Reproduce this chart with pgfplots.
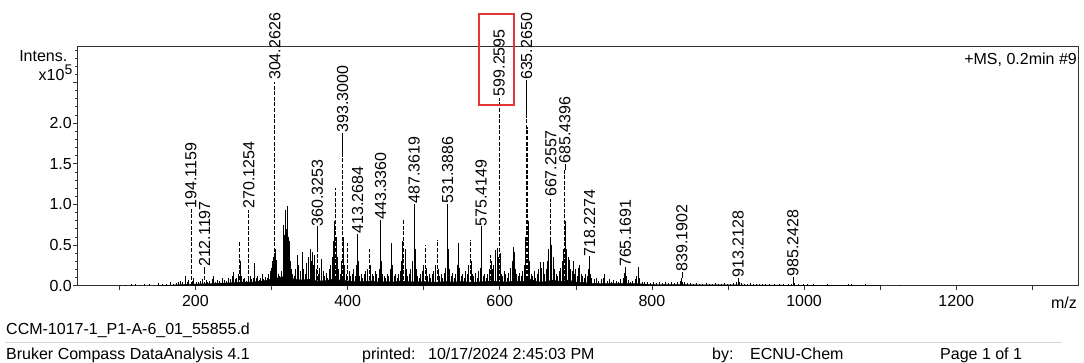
\documentclass[border=0pt]{standalone}
\usepackage{pgfplots}
\pgfplotsset{compat=1.18}
\usepackage{pgfplotstable}
\usepackage{fontspec}
\setmainfont{Liberation Sans}
\definecolor{boxred}{RGB}{225,55,55}
\definecolor{axgray}{RGB}{50,50,50}
\definecolor{sepgray}{RGB}{215,215,215}

% background spectrum (m/z, intensity x1e5)
\pgfplotstableread[row sep=\\]{mz I\\
102 0.012\\ 108 0.008\\ 116 0.02\\ 121 0.025\\ 127 0.01\\ 133 0.015\\ 139 0.02\\ 146 0.012\\ 152 0.03\\ 157 0.018\\
162 0.025\\ 167 0.04\\ 171 0.02\\ 175 0.03\\ 178 0.05\\ 180 0.06\\ 183 0.04\\ 186.6 0.12\\ 189 0.05\\ 191 0.07\\
196 0.06\\ 198 0.09\\ 201 0.05\\ 204 0.04\\ 207 0.06\\ 209 0.08\\ 214 0.07\\ 216 0.05\\ 219 0.06\\ 222 0.08\\
223.5 0.12\\ 226 0.05\\ 229 0.07\\ 232 0.06\\ 235 0.09\\ 238 0.07\\ 241 0.06\\ 244 0.10\\ 246 0.08\\ 248 0.12\\
250 0.17\\ 252 0.08\\ 254 0.10\\ 256 0.15\\ 259.5 0.30\\ 261 0.12\\ 263 0.08\\ 265 0.10\\ 267 0.06\\ 269 0.09\\
272 0.12\\ 274 0.08\\ 276 0.10\\ 277.7 0.28\\ 280 0.09\\ 282 0.12\\ 284 0.07\\ 286 0.10\\ 288 0.14\\ 290 0.08\\
292 0.11\\ 294 0.09\\ 296 0.15\\ 298 0.18\\ 300 0.22\\ 301.5 0.30\\ 302.6 0.35\\ 303.4 0.40\\ 305.2 0.45\\ 306 0.32\\
307 0.22\\ 309 0.15\\ 311 0.12\\ 313 0.18\\ 315 0.35\\ 316 0.75\\ 317.2 0.62\\ 318.5 0.93\\ 320 0.70\\ 321 0.98\\
322 0.60\\ 323 0.55\\ 324.5 0.30\\ 326 0.20\\ 328 0.15\\ 330 0.12\\ 332 0.20\\ 334.6 0.38\\ 336 0.25\\ 338 0.18\\
340 0.42\\ 342 0.20\\ 344 0.15\\ 346 0.28\\ 348 0.35\\ 350.8 0.45\\ 352 0.30\\ 353.4 0.42\\ 355 0.25\\ 357 0.38\\
359 0.20\\ 361.5 0.15\\ 363 0.22\\ 366 0.33\\ 368 0.18\\ 370 0.12\\ 372 0.16\\ 374 0.10\\ 376 0.20\\ 378 0.25\\
380 0.35\\ 381.5 0.55\\ 382.5 0.80\\ 385 0.60\\ 386.5 0.35\\ 388 0.20\\ 390 0.15\\ 392 0.30\\ 394.5 0.60\\ 396 0.25\\
398 0.15\\ 402 0.18\\ 404 0.12\\ 406 0.15\\ 408 0.20\\ 410 0.12\\ 412 0.25\\ 414.5 0.30\\ 416 0.12\\ 418 0.15\\
420 0.10\\ 422 0.14\\ 424 0.18\\ 426 0.20\\ 430 0.25\\ 432 0.15\\ 434 0.12\\ 436 0.18\\ 438 0.14\\ 440 0.10\\
442 0.20\\ 444.5 0.30\\ 446 0.15\\ 448 0.12\\ 450 0.10\\ 452 0.14\\ 454 0.12\\ 456 0.20\\ 458 0.53\\ 459.5 0.25\\
461 0.12\\ 463 0.15\\ 465 0.10\\ 467 0.14\\ 469 0.18\\ 471 0.30\\ 472.5 0.55\\ 475.5 0.45\\ 477 0.20\\ 479 0.12\\
481 0.15\\ 483 0.20\\ 485 0.30\\ 488.5 0.45\\ 490 0.20\\ 492 0.12\\ 494 0.10\\ 496 0.14\\ 498 0.18\\ 500 0.25\\
503 0.22\\ 505 0.12\\ 507 0.15\\ 509 0.10\\ 511 0.14\\ 513 0.18\\ 515 0.25\\ 519 0.20\\ 521 0.12\\ 523 0.14\\
525 0.10\\ 527 0.16\\ 529 0.22\\ 532.5 0.45\\ 534 0.20\\ 536 0.12\\ 538 0.16\\ 540 0.10\\ 542 0.15\\ 544 0.25\\
545.5 0.52\\ 547 0.22\\ 549 0.12\\ 551 0.15\\ 553 0.10\\ 555 0.18\\ 557 0.14\\ 559 0.25\\ 562.5 0.30\\ 564 0.15\\
566 0.12\\ 568 0.16\\ 570 0.10\\ 572 0.18\\ 574 0.22\\ 576.5 0.30\\ 578 0.12\\ 580 0.15\\ 582 0.10\\ 584 0.14\\
586 0.20\\ 589 0.30\\ 590.5 0.20\\ 592 0.25\\ 594 0.44\\ 596.5 0.46\\ 598 0.35\\ 600.5 0.40\\ 602 0.15\\ 604 0.12\\
606 0.18\\ 608 0.14\\ 610 0.10\\ 612 0.16\\ 614 0.22\\ 616 0.30\\ 617.5 0.48\\ 619 0.42\\ 620.5 0.20\\ 622 0.15\\
624 0.12\\ 626 0.16\\ 628 0.12\\ 630 0.18\\ 632 0.25\\ 634 0.60\\ 638 0.80\\ 639.5 0.30\\ 641 0.15\\ 643 0.12\\
645 0.18\\ 647 0.10\\ 649 0.14\\ 651 0.20\\ 653 0.29\\ 655 0.22\\ 657 0.29\\ 659 0.15\\ 661 0.20\\ 663 0.30\\
664.5 0.45\\ 666 0.56\\ 668.5 0.50\\ 670 0.35\\ 672 0.20\\ 674 0.15\\ 676 0.12\\ 678 0.18\\ 680 0.22\\ 682 0.30\\
683.5 0.45\\ 686.5 0.80\\ 688 0.45\\ 690 0.35\\ 691.5 0.31\\ 693 0.20\\ 695 0.18\\ 696.6 0.30\\ 698 0.15\\ 700 0.20\\
702 0.12\\ 703.5 0.22\\ 705 0.26\\ 707 0.15\\ 709 0.12\\ 711 0.10\\ 713 0.14\\ 715 0.12\\ 716.5 0.20\\ 719.5 0.15\\
721 0.10\\ 724 0.08\\ 727 0.10\\ 730 0.06\\ 733 0.08\\ 736 0.10\\ 738 0.14\\ 741 0.06\\ 744 0.08\\ 747 0.05\\
750 0.07\\ 753 0.06\\ 756 0.05\\ 759 0.08\\ 762 0.10\\ 764 0.16\\ 766.5 0.12\\ 769 0.07\\ 772 0.05\\ 775 0.06\\
778 0.08\\ 780 0.12\\ 782 0.23\\ 784 0.10\\ 787 0.05\\ 790 0.04\\ 794 0.05\\ 798 0.03\\ 802 0.04\\ 806 0.03\\
810 0.04\\ 814 0.03\\ 818 0.04\\ 822 0.03\\ 826 0.04\\ 830 0.03\\ 834 0.05\\ 837 0.06\\ 840.5 0.05\\ 843 0.04\\
847 0.03\\ 851 0.03\\ 855 0.025\\ 859 0.03\\ 863 0.025\\ 867 0.02\\ 871 0.03\\ 875 0.025\\ 879 0.02\\ 883 0.03\\
887 0.025\\ 891 0.02\\ 895 0.03\\ 899 0.025\\ 903 0.02\\ 907 0.03\\ 911 0.05\\ 914.5 0.04\\ 917 0.03\\ 921 0.025\\
925 0.02\\ 929 0.03\\ 933 0.02\\ 937 0.015\\ 941 0.02\\ 945 0.015\\ 949 0.02\\ 955 0.015\\ 961 0.02\\ 967 0.015\\
973 0.02\\ 979 0.015\\ 983 0.02\\ 987 0.03\\ 993 0.015\\ 999 0.02\\ 1005 0.015\\ 1012 0.02\\ 1020 0.01\\ 1030 0.015\\
1045 0.01\\ 1058 0.015\\ 1062 0.02\\ 1070 0.01\\ 1080 0.015\\ 1100 0.01\\ 1125 0.012\\
}\noise

% noise floor envelope
\pgfplotstableread[row sep=\\]{mz I\\
150 0\\ 170 0.008\\ 185 0.015\\ 200 0.02\\ 215 0.025\\ 230 0.03\\ 245 0.035\\ 260 0.045\\ 275 0.045\\ 290 0.06\\
300 0.08\\ 310 0.10\\ 320 0.12\\ 330 0.08\\ 340 0.07\\ 350 0.08\\ 360 0.06\\ 370 0.06\\ 380 0.08\\ 390 0.07\\
400 0.06\\ 410 0.05\\ 420 0.05\\ 430 0.06\\ 440 0.045\\ 450 0.05\\ 460 0.045\\ 470 0.06\\ 480 0.05\\ 490 0.045\\
500 0.05\\ 510 0.045\\ 520 0.045\\ 530 0.05\\ 540 0.045\\ 550 0.05\\ 560 0.045\\ 570 0.045\\ 580 0.05\\ 590 0.06\\
600 0.05\\ 610 0.045\\ 620 0.06\\ 630 0.05\\ 640 0.08\\ 650 0.045\\ 660 0.05\\ 670 0.07\\ 680 0.05\\ 690 0.07\\
700 0.045\\ 710 0.04\\ 720 0.03\\ 740 0.025\\ 760 0.025\\ 780 0.025\\ 800 0.015\\ 850 0.012\\ 900 0.01\\ 950 0.007\\
1000 0.005\\ 1050 0.003\\ 1100 0\\
}\floor

% unlabelled strong peaks (drawn broken, as in the print)
\pgfplotstableread[row sep=\\]{mz I\\
257.9 0.54\\ 383.6 1.20\\ 400.0 0.52\\ 428.7 0.45\\ 474.0 0.82\\ 501.8 0.50\\ 517.5 0.56\\ 561.0 0.56\\ 587.5 0.38\\ 636.3 1.95\\
}\dashpk

% labelled peaks drawn broken
\pgfplotstableread[row sep=\\]{mz I\\
194.1159 0.94\\ 212.1197 0.19\\ 270.1254 0.93\\ 304.2626 2.51\\ 360.3253 0.45\\ 393.3000 1.58\\
599.2595 2.31\\ 635.2650 2.10\\ 667.2557 1.07\\ 685.4396 1.42\\
}\dashlab

% labelled peaks drawn solid
\pgfplotstableread[row sep=\\]{mz I\\
413.2684 0.56\\ 443.3360 0.77\\ 487.3619 0.98\\ 531.3886 0.99\\ 575.4149 0.70\\
718.2274 0.30\\ 765.1691 0.19\\ 839.1902 0.10\\ 913.2128 0.07\\ 985.2428 0.05\\
}\solidlab

\tikzset{lab/.style={rotate=90, anchor=west, inner sep=0pt, font=\fontsize{16}{19}\selectfont}}

\begin{document}
\begin{tikzpicture}
\path[use as bounding box] (0,0) rectangle (1084pt,363pt);
\begin{axis}[
  at={(77.5pt,77.3pt)}, anchor=south west,
  scale only axis, width=1000.5pt, height=239pt,
  xmin=45, xmax=1360, ymin=0, ymax=2.94,
  clip=false,
  axis line style={axgray, line width=0.8pt},
  tick style={axgray, line width=0.7pt},
  tick align=outside, tick pos=left,
  major tick length=4.5pt, minor tick length=2.5pt,
  xtick={100,200,...,1300},
  xticklabels={,200,,400,,600,,800,,1000,,1200,},
  ytick={0,0.5,1,1.5,2,2.5},
  yticklabels={0.0,0.5,1.0,1.5,2.0,},
  minor ytick={0.1,0.2,0.3,0.4,0.6,0.7,0.8,0.9,1.1,1.2,1.3,1.4,1.6,1.7,1.8,1.9,2.1,2.2,2.3,2.4,2.6,2.7,2.8,2.9},
  ticklabel style={font=\fontsize{16}{19}\selectfont},
  xticklabel style={yshift=-2pt},
  yticklabel style={inner sep=1pt},
]
\addplot[fill=black, draw=black, line width=0.4pt] table[x=mz, y=I] {\floor} \closedcycle;
\addplot[ycomb, black, line width=0.85pt, mark=none] table[x=mz, y=I] {\noise};
\addplot[ycomb, black, line width=0.9pt, mark=none, dash pattern=on 4pt off 1.6pt] table[x=mz, y=I] {\dashpk};
\addplot[ycomb, black, line width=0.9pt, mark=none, dash pattern=on 4pt off 1.6pt] table[x=mz, y=I] {\dashlab};
\addplot[ycomb, black, line width=0.75pt, mark=none] table[x=mz, y=I] {\solidlab};
% leader lines from peak top to label
\addplot[black, line width=0.5pt, unbounded coords=jump, mark=none] coordinates {
 (212.1197,0.19) (212.1197,0.23) (212.1197,nan)
 (360.3253,0.45) (360.3253,0.73) (360.3253,nan)
 (393.3000,1.58) (393.3000,1.88) (393.3000,nan)
 (413.2684,0.56) (413.2684,0.64) (413.2684,nan)
 (443.3360,0.77) (443.3360,0.81) (443.3360,nan)
 (487.3619,0.98) (487.3619,1.01) (487.3619,nan)
 (531.3886,0.99) (531.3886,1.01) (531.3886,nan)
 (575.4149,0.70) (575.4149,0.73) (575.4149,nan)
 (635.2650,2.10) (635.2650,2.53) (635.2650,nan)
 (685.4396,1.42) (685.4396,1.50) (685.4396,nan)
 (718.2274,0.30) (718.2274,0.36) (718.2274,nan)
 (765.1691,0.19) (765.1691,0.23) (765.1691,nan)
 (839.1902,0.10) (839.1902,0.17) (839.1902,nan)
 (913.2128,0.07) (913.2128,0.10) (913.2128,nan)
 (985.2428,0.05) (985.2428,0.11)};
% peak labels
\node[lab] at (axis cs:194.1159,0.95) {194.1159};
\node[lab] at (axis cs:212.1197,0.23) {212.1197};
\node[lab] at (axis cs:270.1254,0.95) {270.1254};
\node[lab] at (axis cs:304.2626,2.53) {304.2626};
\node[lab] at (axis cs:360.3253,0.73) {360.3253};
\node[lab] at (axis cs:393.3000,1.88) {393.3000};
\node[lab] at (axis cs:413.2684,0.64) {413.2684};
\node[lab] at (axis cs:443.3360,0.81) {443.3360};
\node[lab] at (axis cs:487.3619,1.01) {487.3619};
\node[lab] at (axis cs:531.3886,1.01) {531.3886};
\node[lab] at (axis cs:575.4149,0.73) {575.4149};
\node[lab] at (axis cs:599.2595,2.33) {599.2595};
\node[lab] at (axis cs:635.2650,2.53) {635.2650};
\node[lab] at (axis cs:667.2557,1.09) {667.2557};
\node[lab] at (axis cs:685.4396,1.50) {685.4396};
\node[lab] at (axis cs:718.2274,0.36) {718.2274};
\node[lab] at (axis cs:765.1691,0.23) {765.1691};
\node[lab] at (axis cs:839.1902,0.17) {839.1902};
\node[lab] at (axis cs:913.2128,0.10) {913.2128};
\node[lab] at (axis cs:985.2428,0.11) {985.2428};
\draw[draw=boxred, line width=1.6pt, line join=miter]
  (axis cs:573,2.22) -- (axis cs:618.6,2.22) -- (axis cs:618.6,3.34) -- (axis cs:573,3.34) -- cycle;
\end{axis}
\begin{scope}[every node/.style={inner sep=0pt, font=\fontsize{16}{19}\selectfont}]
\node[anchor=base east] at (67.5pt,301.3pt) {Intens.};
\node[anchor=base east] at (72.5pt,282.3pt) {x10\raisebox{0.38em}{\fontsize{14}{14}\selectfont 5}};
\node[anchor=base east] at (1077pt,298.5pt) {+MS, 0.2min \#9};
\node[anchor=base east] at (1077pt,54pt) {m/z};
\node[anchor=base west] at (6pt,28pt) {CCM-1017-1\_P1-A-6\_01\_55855.d};
\draw[sepgray, line width=0.9pt] (5pt,20.7pt) -- (1062pt,20.7pt);
\node[anchor=base west] at (6pt,3.5pt) {Bruker Compass DataAnalysis 4.1};
\node[anchor=base west] at (362pt,3.5pt) {printed:};
\node[anchor=base west] at (428pt,3.5pt) {10/17/2024 2:45:03 PM};
\node[anchor=base west] at (712pt,3.5pt) {by:};
\node[anchor=base west] at (750pt,3.5pt) {ECNU-Chem};
\node[anchor=base west] at (940pt,3.5pt) {Page 1 of 1};
\end{scope}
\end{tikzpicture}
\end{document}
